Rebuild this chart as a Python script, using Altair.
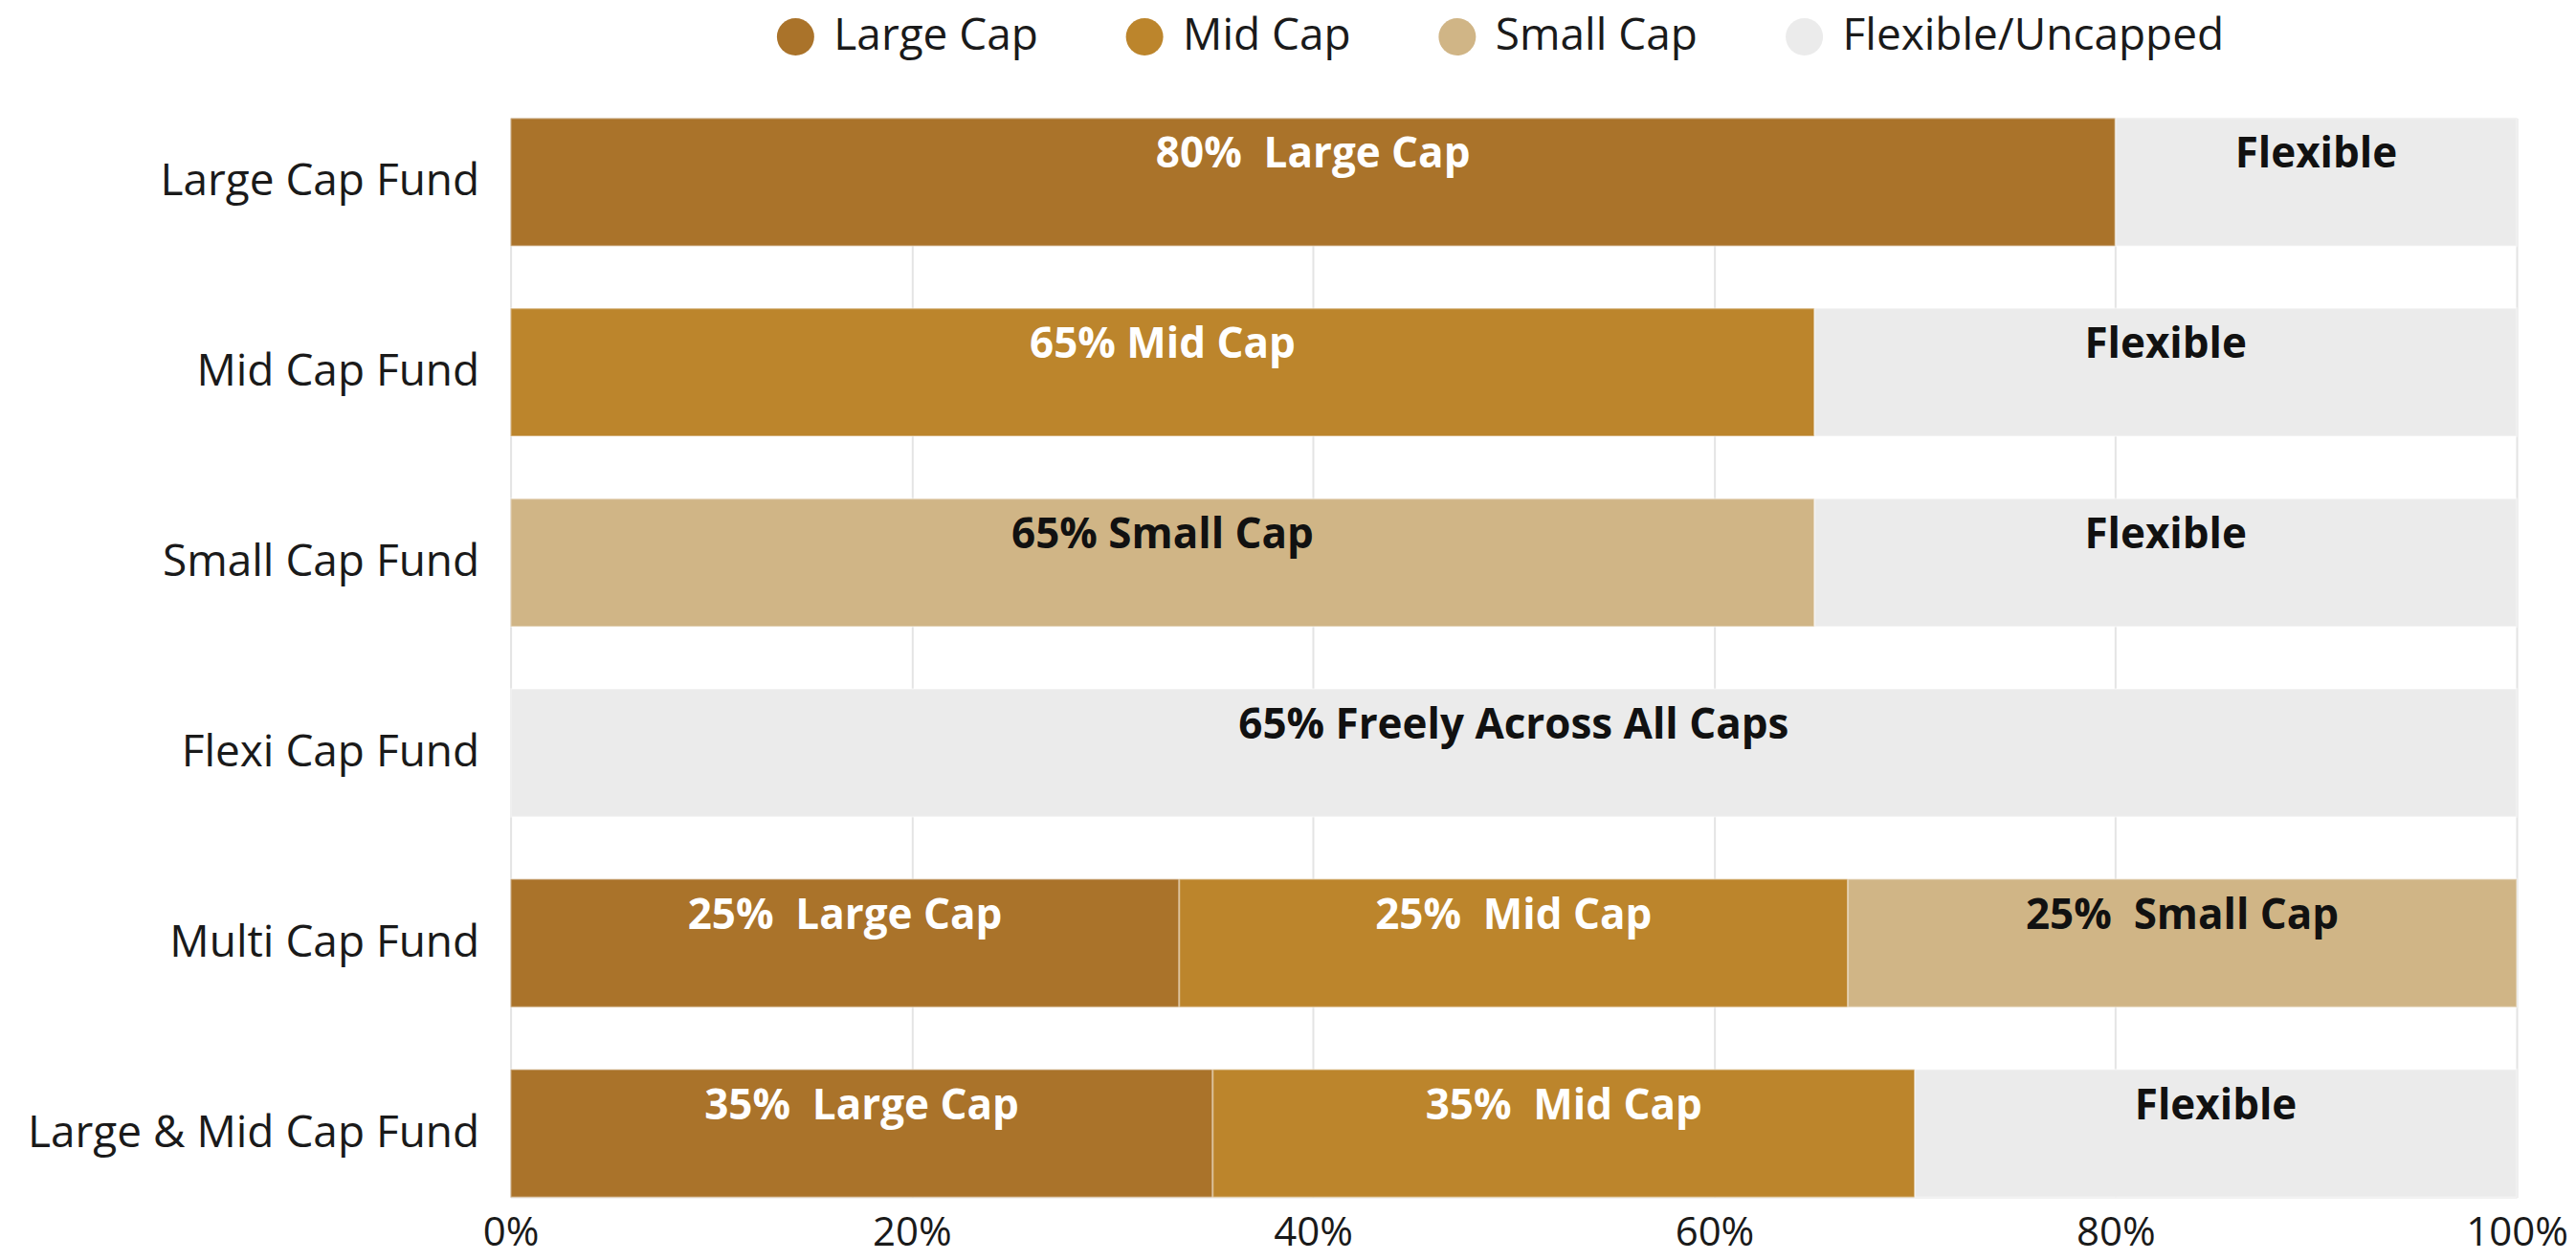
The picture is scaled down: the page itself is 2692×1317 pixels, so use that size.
import altair as alt
import pandas as pd

funds = ["Large Cap Fund", "Mid Cap Fund", "Small Cap Fund",
         "Flexi Cap Fund", "Multi Cap Fund", "Large & Mid Cap Fund"]
categories = ["Large Cap", "Mid Cap", "Small Cap", "Flexible/Uncapped"]
colors = ["#AA732A", "#BC852C", "#D0B586", "#EBEBEB"]
text_colors = ["#FFFFFF", "#FFFFFF", "#111111", "#111111"]

large_vals = [80, 0, 0, 0, 33.33, 35]
mid_vals = [0, 65, 0, 0, 33.33, 35]
small_vals = [0, 0, 65, 0, 33.34, 0]
flex_vals = [20, 35, 35, 100, 0, 30]

NB = "\u00a0"
large_labels = [f"80%{NB} Large Cap", "", "", "", f"25%{NB} Large Cap", f"35%{NB} Large Cap"]
mid_labels = ["", "65% Mid Cap", "", "", f"25%{NB} Mid Cap", f"35%{NB} Mid Cap"]
small_labels = ["", "", "65% Small Cap", "", f"25%{NB} Small Cap", ""]
flex_labels = ["Flexible", "Flexible", "Flexible", "65% Freely Across All Caps", "", "Flexible"]

x_ticks = [0, 20, 40, 60, 80, 100]

rows = []
for ci, (cat, vals, labs) in enumerate(zip(
        categories,
        [large_vals, mid_vals, small_vals, flex_vals],
        [large_labels, mid_labels, small_labels, flex_labels])):
    for fund, v, lab in zip(funds, vals, labs):
        if v > 0:
            rows.append({"fund": fund, "category": cat, "value": v,
                         "label": lab, "order": ci,
                         "tcolor": text_colors[ci]})
df = pd.DataFrame(rows)

FONT = "Open Sans"

base = alt.Chart(df).transform_stack(
    stack="value", as_=["x0", "x1"], groupby=["fund"],
    sort=[alt.SortField("order", order="ascending")]
).transform_calculate(mid="(datum.x0 + datum.x1) / 2")

y_enc = alt.Y("fund:N", sort=funds, title=None,
              scale=alt.Scale(paddingInner=0.327, paddingOuter=0),
              axis=alt.Axis(ticks=False, domain=False, labelFontSize=46,
                            labelPadding=33, labelColor="#1a1a1a",
                            labelFont=FONT, labelLimit=1000))

bars = base.mark_bar(stroke="#ffffff", strokeOpacity=0.35, strokeWidth=2).encode(
    x=alt.X("x0:Q", title=None, scale=alt.Scale(domain=[0, 100], nice=False),
            axis=alt.Axis(values=x_ticks, labelExpr="datum.value + '%'",
                          grid=True, gridColor="#e4e4e4", gridWidth=2,
                          ticks=False, domain=False, labelFontSize=42,
                          labelPadding=17, labelFlush=False,
                          labelColor="#1a1a1a", labelFont=FONT)),
    x2="x1:Q",
    y=y_enc,
    color=alt.Color("category:N",
                    scale=alt.Scale(domain=categories, range=colors),
                    legend=alt.Legend(
                        title=None, orient="none", direction="horizontal",
                        legendX=275, legendY=-108, padding=0,
                        symbolType="circle", symbolSize=1520,
                        symbolStrokeWidth=0, symbolOpacity=1,
                        labelFontSize=46, labelFont=FONT, labelColor="#1a1a1a",
                        labelOffset=17, columnPadding=88, labelLimit=1000)),
)

texts = base.mark_text(fontSize=44, fontWeight="bold", font=FONT,
                       baseline="middle", dy=-28).encode(
    x="mid:Q",
    y=alt.Y("fund:N", sort=funds),
    text="label:N",
    color=alt.Color("tcolor:N", scale=None),
)

chart = alt.layer(bars, texts).properties(
    width=2098, height=1129,
    autosize=alt.AutoSizeParams(type="none"),
    padding={"left": 526, "top": 115, "right": 54, "bottom": 57},
).configure_view(stroke=None).configure(font=FONT)

chart.save("out.html", embed_options={"renderer": "svg", "actions": False})
